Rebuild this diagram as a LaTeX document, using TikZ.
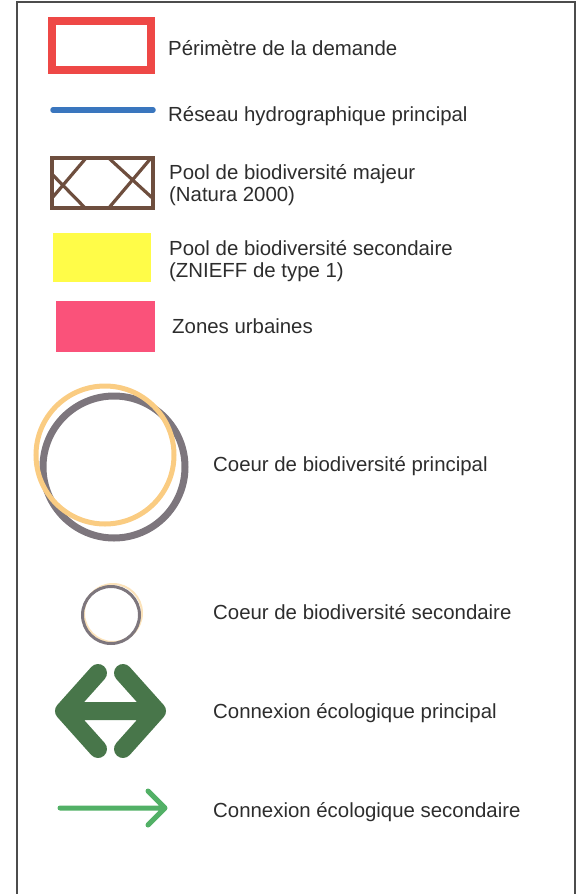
\documentclass[tikz,border=0pt]{standalone}
\usepackage{fontspec}
\setmainfont{Liberation Sans}
\usetikzlibrary{positioning}

\definecolor{perimred}{RGB}{238,72,70}
\definecolor{riverblue}{RGB}{58,118,190}
\definecolor{poolbrown}{RGB}{110,78,62}
\definecolor{znieffyellow}{RGB}{255,252,72}
\definecolor{urbanpink}{RGB}{250,82,122}
\definecolor{coreorange}{RGB}{250,204,130}
\definecolor{coregray}{RGB}{125,118,125}
\definecolor{linkdark}{RGB}{72,118,74}
\definecolor{linklight}{RGB}{82,176,102}
\definecolor{itemgray}{RGB}{45,45,45}

\begin{document}
\begin{tikzpicture}[x=1pt,y=-1pt,
  legtext/.style={anchor=base west, inner sep=0pt, text=itemgray, align=left,
    font=\fontsize{20.4}{22}\selectfont},
  swatch/.style={inner sep=0pt, outer sep=0pt},
  ring/.style={circle, inner sep=0pt}]
\useasboundingbox (0,0) rectangle (580,894);

% Frame
\draw [line width=1.4pt, black!70] (17,894) -- (17,2) -- (575,2) -- (575,894);

% Upper swatches
\node [swatch, draw=perimred, line width=8pt, minimum width=99pt, minimum height=49pt] at (101.5,45.5) (perim) {};
\coordinate (river1) at (53,110);
\coordinate (river2) at (153,110);
\draw [riverblue, line width=5.5pt, line cap=round] (river1) -- (river2);
\node [swatch, draw=poolbrown, line width=4pt, minimum width=101pt, minimum height=50pt] at (102.5,183) (natura) {};
\begin{scope}
\clip (natura.south west) rectangle (natura.north east);
\draw [poolbrown, line width=3.2pt] (45,167) -- (92,215) (92,151) -- (47,204)
  (101,151) -- (160,205) (157,151) -- (102,216);
\end{scope}
\node [swatch, fill=znieffyellow, minimum width=98pt, minimum height=49pt] at (102,257.5) (znieff) {};
\node [swatch, fill=urbanpink, minimum width=99pt, minimum height=51pt] at (105.5,326.5) (urban) {};

% Upper labels
\node [legtext] at (168,55) (perimtext) {Périmètre de la demande};
\node [legtext] at (168,121) (rivertext) {Réseau hydrographique principal};
\node [legtext] at (169,201) (naturatext) {Pool de biodiversité majeur\\(Natura 2000)};
\node [legtext] at (169,277) (zniefftext) {Pool de biodiversité secondaire\\(ZNIEFF de type 1)};
\node [legtext] at (172,333) (urbantext) {Zones urbaines};

% Cores
\node [ring, draw=coregray, line width=7pt, minimum size=142pt] at (114,467) (bigcore) {};
\node [ring, draw=coreorange, line width=5pt, minimum size=138pt] at (105,455) (bigcorerim) {};
\node [ring, draw=coreorange!55, line width=2pt, minimum size=58pt] at (113,613) (smallcorerim) {};
\node [ring, draw=coregray, line width=3pt, minimum size=57pt] at (111,615) (smallcore) {};

% Links
\draw [linkdark, line width=18pt, line cap=round, line join=round]
  (98,673) -- (64,711) -- (98,749) (123,673) -- (157,711) -- (123,749) (64,711) -- (157,711);
\draw [linklight, line width=5pt, line cap=round, line join=round]
  (60,808) -- (165,808) (148,791) -- (165,808) -- (148,825);

% Lower labels
\node [legtext] at (213,471) (bigcoretext) {Coeur de biodiversité principal};
\node [legtext] at (213,619) (smallcoretext) {Coeur de biodiversité secondaire};
\node [legtext] at (213,718) (bigtext) {Connexion écologique principal};
\node [legtext] at (213,817) (smalltext) {Connexion écologique secondaire};
\end{tikzpicture}
\end{document}
